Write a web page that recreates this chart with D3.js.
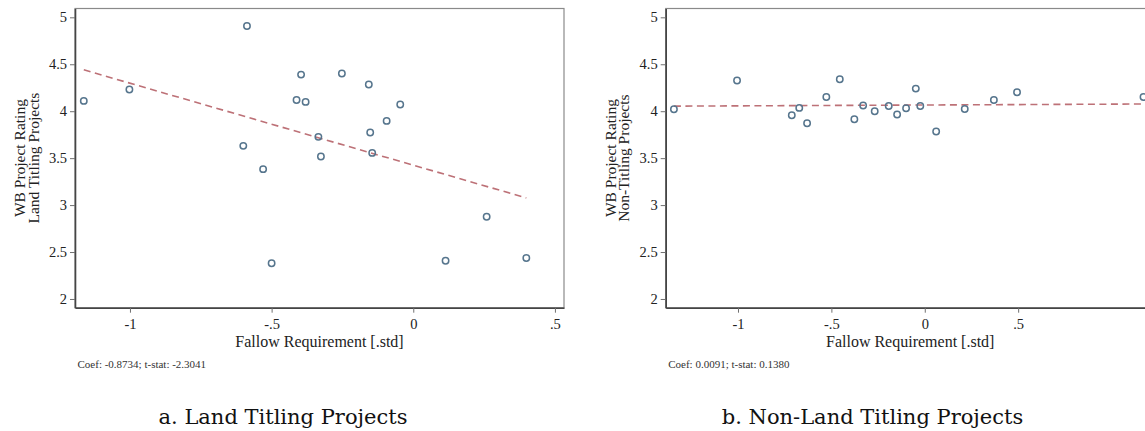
<!DOCTYPE html>
<html><head><meta charset="utf-8">
<script src="https://cdn.jsdelivr.net/npm/d3@7"></script>
<style>body{margin:0;background:#fff} svg{display:block}</style>
</head><body>
<svg id="chart" width="1145" height="431"></svg>
<script>
// ---- Data ----
const landX = [-1.163,-1.002,-0.587,-0.600,-0.530,-0.396,-0.252,-0.157,-0.412,-0.380,-0.046,-0.094,-0.335,-0.152,-0.326,-0.145,0.259,-0.500,0.114,0.399];
const landY = [4.110,4.231,4.907,3.631,3.383,4.390,4.401,4.284,4.120,4.099,4.071,3.897,3.727,3.773,3.518,3.556,2.876,2.380,2.407,2.436];
const nonX = [-1.343,-1.005,-0.712,-0.672,-0.630,-0.527,-0.455,-0.377,-0.330,-0.268,-0.193,-0.148,-0.100,-0.048,-0.024,0.061,0.214,0.370,0.494,1.171];
const nonY = [4.021,4.327,3.957,4.035,3.872,4.152,4.340,3.915,4.061,4.000,4.056,3.965,4.032,4.241,4.056,3.784,4.024,4.120,4.202,4.152];
const landFit = {slope:-0.8734, intercept:3.425};
const nonFit = {slope:0.0091, intercept:4.066};
const yTicks = [2,2.5,3,3.5,4,4.5,5];
const yTickLabels = ["2","2.5","3","3.5","4","4.5","5"];
const xTicks = [-1,-0.5,0,0.5];
const xTickLabels = ["-1","-.5","0",".5"];
const yTitleLand = ["WB Project Rating","Land Titling Projects"];
const yTitleNon = ["WB Project Rating","Non-Titling Projects"];
const xTitle = "Fallow Requirement [.std]";
const notes = ["Coef: -0.8734; t-stat: -2.3041","Coef: 0.0091; t-stat: 0.1380"];
const captions = ["a. Land Titling Projects","b. Non-Land Titling Projects"];

(function(){
const svg = d3.select("#chart");
const serif = "'Liberation Serif','Times New Roman',serif";

const panels = [
  {xs:landX, ys:landY, fit:landFit, yTitle:yTitleLand, note:notes[0], caption:captions[0],
   left:75, right:564, xdom:[-1.194,0.532], capX:283},
  {xs:nonX, ys:nonY, fit:nonFit, yTitle:yTitleNon, note:notes[1], caption:captions[1],
   left:665.7, right:1154.7, xdom:[-1.387,1.231], capX:872.5}
];
const pTop = 8.5, pBottom = 307.7;

panels.forEach((p,pi) => {
  const x = d3.scaleLinear().domain(p.xdom).range([p.left, p.right]);
  const y = d3.scaleLinear().domain([1.907,5.094]).range([pBottom, pTop]);
  const g = svg.append("g");

  g.append("rect").attr("x",p.left).attr("y",pTop).attr("width",p.right-p.left).attr("height",pBottom-pTop)
    .attr("fill","none").attr("stroke","#8a8a8a").attr("stroke-width",1.2);

  const xmin = d3.min(p.xs), xmax = d3.max(p.xs);
  g.append("line")
    .attr("x1",x(xmin)).attr("y1",y(p.fit.intercept+p.fit.slope*xmin))
    .attr("x2",x(xmax)).attr("y2",y(p.fit.intercept+p.fit.slope*xmax))
    .attr("stroke","#bd7177").attr("stroke-width",1.6).attr("stroke-dasharray","7,4.5");

  g.selectAll("circle").data(p.xs.map((v,i)=>[v,p.ys[i]])).join("circle")
    .attr("cx",d=>x(d[0])).attr("cy",d=>y(d[1])).attr("r",3.2)
    .attr("fill","none").attr("stroke","#56758d").attr("stroke-width",1.5);

  const ya = g.append("g").attr("transform",`translate(${p.left},0)`)
    .call(d3.axisLeft(y).tickValues(yTicks).tickFormat((d,i)=>yTickLabels[i]).tickSize(5).tickPadding(3).tickSizeOuter(0));
  const xa = g.append("g").attr("transform",`translate(0,${pBottom})`)
    .call(d3.axisBottom(x).tickValues(xTicks).tickFormat((d,i)=>xTickLabels[i]).tickSize(5).tickPadding(6).tickSizeOuter(0));
  [ya,xa].forEach(a=>{
    a.select(".domain").attr("stroke","#454545").attr("stroke-width",1.6);
    a.selectAll(".tick line").attr("stroke","#707070").attr("stroke-width",1);
    a.selectAll("text").attr("font-family",serif).attr("font-size",14.5).attr("fill","#222");
  });

  const cy = (pTop+pBottom)/2;
  p.yTitle.forEach((t,i)=>{
    g.append("text").attr("transform",`translate(${p.left-50+i*13.5},${cy}) rotate(-90)`)
      .attr("text-anchor","middle").attr("font-family",serif).attr("font-size",15.5).attr("fill","#222").text(t);
  });
  g.append("text").attr("x",(p.left+p.right)/2).attr("y",347)
    .attr("text-anchor","middle").attr("font-family",serif).attr("font-size",16).attr("fill","#222").text(xTitle);
  g.append("text").attr("x",p.left+2.5).attr("y",368).attr("font-family",serif).attr("font-size",11).attr("fill","#333").text(p.note);
  g.append("text").attr("x",p.capX).attr("y",424).attr("text-anchor","middle")
    .attr("font-family","'DejaVu Serif',serif").attr("font-size",21).attr("fill","#111").text(p.caption);
});
})();
</script>
</body></html>
